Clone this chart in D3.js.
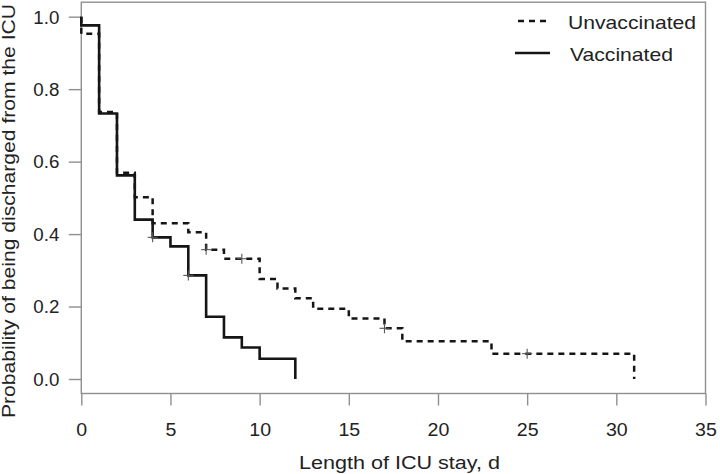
<!DOCTYPE html>
<html>
<head>
<meta charset="utf-8">
<script src="https://cdn.jsdelivr.net/npm/d3@7"></script>
<style>
  html, body { margin: 0; padding: 0; background: #fff; }
  svg { display: block; }
  text { font-family: "Liberation Sans", Arial, Helvetica, sans-serif; fill: #222; }
</style>
</head>
<body>
<svg id="chart" width="720" height="474"></svg>
<script>
// ---- data ----
const xTicks = [0, 5, 10, 15, 20, 25, 30, 35];
const yTicks = [0.0, 0.2, 0.4, 0.6, 0.8, 1.0];

const unvacTimes = [0, 0, 1, 2, 3, 4, 6, 7, 8, 10, 11, 12, 13, 15, 17, 18, 23, 31];
const unvacSurv  = [1.0, 0.953, 0.737, 0.569, 0.502, 0.430, 0.405, 0.357, 0.332, 0.276, 0.250, 0.223, 0.194, 0.167, 0.140, 0.104, 0.070, 0.0];
const unvacCensorTimes = [7, 9, 17, 25];
const unvacCensorSurv  = [0.357, 0.332, 0.140, 0.070];

const vacTimes = [0, 0, 1, 2, 3, 4, 5, 6, 7, 8, 9, 10, 12];
const vacSurv  = [1.0, 0.976, 0.733, 0.562, 0.440, 0.391, 0.366, 0.286, 0.172, 0.115, 0.087, 0.056, 0.0];
const vacCensorTimes = [4, 6];
const vacCensorSurv  = [0.391, 0.286];

const seriesNames = ["Unvaccinated", "Vaccinated"];

// ---- layout ----
const svg = d3.select("#chart");
const mLeft = 81.3, mRight = 705.5, mTop = 2.2, mBottom = 393.5;

const x = d3.scaleLinear().domain([0, 35]).range([mLeft, mRight]);
const y = d3.scaleLinear().domain([-0.04, 1.04]).range([mBottom, mTop]);

const frameColor = "#8f8f8f";

// plot box
svg.append("rect")
  .attr("x", mLeft).attr("y", mTop)
  .attr("width", mRight - mLeft).attr("height", mBottom - mTop)
  .attr("fill", "none").attr("stroke", frameColor).attr("stroke-width", 1.4);

// x axis
const gx = svg.append("g")
  .attr("transform", `translate(0,${mBottom})`)
  .call(d3.axisBottom(x).tickValues(xTicks).tickSize(12).tickSizeOuter(0).tickFormat(d3.format("d")));
gx.select(".domain").remove();
gx.selectAll(".tick line").attr("stroke", frameColor).attr("stroke-width", 1.4);
gx.selectAll(".tick text")
  .attr("y", 43).attr("dy", null)
  .attr("transform", "scale(1.12,1)")
  .style("font-size", "17.5px")
  .attr("fill", "#222");

// y axis
const gy = svg.append("g")
  .attr("transform", `translate(${mLeft},0)`)
  .call(d3.axisLeft(y).tickValues(yTicks).tickSize(12.5).tickSizeOuter(0).tickFormat(d3.format(".1f")));
gy.select(".domain").remove();
gy.selectAll(".tick line").attr("stroke", frameColor).attr("stroke-width", 1.4);
gy.selectAll(".tick text")
  .attr("x", -22).attr("dy", "0.36em")
  .style("font-size", "17.5px")
  .attr("textLength", 26).attr("lengthAdjust", "spacingAndGlyphs")
  .attr("fill", "#222");

// axis titles
svg.append("text")
  .attr("x", 299).attr("y", 469)
  .attr("textLength", 201).attr("lengthAdjust", "spacingAndGlyphs")
  .style("font-size", "17.5px")
  .text("Length of ICU stay, d");

svg.append("text")
  .attr("transform", "translate(15,418) rotate(-90)")
  .attr("x", 0).attr("y", 0)
  .attr("textLength", 414).attr("lengthAdjust", "spacingAndGlyphs")
  .style("font-size", "18px")
  .text("Probability of being discharged from the ICU");

// curves
const line = d3.line()
  .x(d => x(d[0])).y(d => y(d[1]))
  .curve(d3.curveStepAfter);

const unvacPts = unvacTimes.map((t, i) => [t, unvacSurv[i]]);
const vacPts = vacTimes.map((t, i) => [t, vacSurv[i]]);

svg.append("path")
  .attr("d", line(unvacPts))
  .attr("fill", "none").attr("stroke", "#151515")
  .attr("stroke-width", 2.5).attr("stroke-dasharray", "6,5");

svg.append("path")
  .attr("d", line(vacPts))
  .attr("fill", "none").attr("stroke", "#151515")
  .attr("stroke-width", 2.6);

// censor marks
function drawCensors(times, surv) {
  const pts = times.map((t, i) => [t, surv[i]]);
  const g = svg.append("g").attr("stroke", "#555").attr("stroke-width", 1.1);
  g.selectAll("line.h").data(pts).join("line")
    .attr("class", "h")
    .attr("x1", d => x(d[0]) - 5).attr("x2", d => x(d[0]) + 5)
    .attr("y1", d => y(d[1])).attr("y2", d => y(d[1]));
  g.selectAll("line.v").data(pts).join("line")
    .attr("class", "v")
    .attr("x1", d => x(d[0])).attr("x2", d => x(d[0]))
    .attr("y1", d => y(d[1]) - 5).attr("y2", d => y(d[1]) + 5);
}
drawCensors(unvacCensorTimes, unvacCensorSurv);
drawCensors(vacCensorTimes, vacCensorSurv);

// legend
const legend = svg.append("g");
legend.append("line")
  .attr("x1", 518).attr("x2", 546).attr("y1", 21).attr("y2", 21)
  .attr("stroke", "#151515").attr("stroke-width", 2.5).attr("stroke-dasharray", "6,5");
legend.append("line")
  .attr("x1", 515).attr("x2", 550).attr("y1", 53).attr("y2", 53)
  .attr("stroke", "#151515").attr("stroke-width", 2.6);
legend.append("text")
  .attr("x", 568).attr("y", 29)
  .attr("textLength", 128).attr("lengthAdjust", "spacingAndGlyphs")
  .style("font-size", "19px")
  .text(seriesNames[0]);
legend.append("text")
  .attr("x", 570).attr("y", 61)
  .attr("textLength", 103).attr("lengthAdjust", "spacingAndGlyphs")
  .style("font-size", "19px")
  .text(seriesNames[1]);
</script>
</body>
</html>
